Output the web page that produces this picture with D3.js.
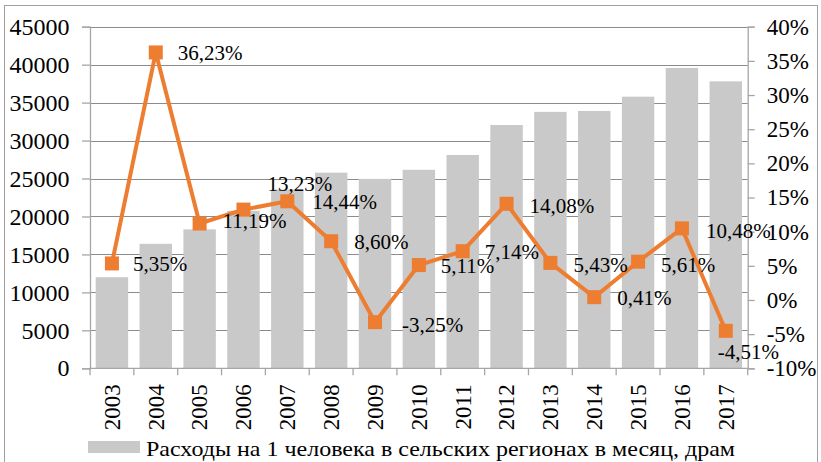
<!DOCTYPE html>
<html>
<head>
<meta charset="utf-8">
<script src="https://cdn.jsdelivr.net/npm/d3@7"></script>
<style>
  html, body { margin: 0; padding: 0; background: #fff; }
  svg text { font-family: "Liberation Serif", "DejaVu Serif", serif !important; fill: #000; }
</style>
</head>
<body>
<svg id="chart" width="821" height="462"></svg>
<script>
// ---- data ----
const years = ["2003","2004","2005","2006","2007","2008","2009","2010","2011","2012","2013","2014","2015","2016","2017"];
const spending = [12000, 16400, 18300, 20750, 23550, 25770, 24950, 26150, 28100, 32050, 33780, 33900, 35780, 39560, 37800];
const growth = [5.35, 36.23, 11.19, 13.23, 14.44, 8.60, -3.25, 5.11, 7.14, 14.08, 5.43, 0.41, 5.61, 10.48, -4.51];
const leftTicks = [0, 5000, 10000, 15000, 20000, 25000, 30000, 35000, 40000, 45000];
const rightTicks = [-10, -5, 0, 5, 10, 15, 20, 25, 30, 35, 40];
const legendLabel = "Расходы на 1 человека в сельских регионах в месяц, драм";

// ---- layout (label placement relative to marker) ----
const labelOffsets = [[21,0],[22,0],[23,-3],[24,-26],[25,1],[23,1],[27,3],[22,1],[22,1],[23,2],[23,2],[23,1],[23,3],[24,2],[-8,21]];

const svg = d3.select("#chart");
const L = 90, R = 747.7, T = 26.7, B = 368.3;
const gridColor = "#8c8c8c";
const axisColor = "#a6a6a6";
const FONT = "Liberation Serif";

// outer frame
svg.append("rect").attr("x", 4.5).attr("y", 5.5).attr("width", 813).attr("height", 462)
  .attr("fill", "none").attr("stroke", "#a0a0a0").attr("stroke-width", 1);

const x = d3.scaleBand().domain(years).range([L, R]).paddingInner(0.26).paddingOuter(0.13);
const xc = d => x(d) + x.bandwidth() / 2;
const yL = d3.scaleLinear().domain([0, 45000]).range([B, T]);
const yR = d3.scaleLinear().domain([-10, 40]).range([B, T]);

// gridlines
svg.append("g").selectAll("line").data(leftTicks.filter(d => d > 0)).join("line")
  .attr("x1", L).attr("x2", R)
  .attr("y1", d => Math.round(yL(d)) + 0.5).attr("y2", d => Math.round(yL(d)) + 0.5)
  .attr("stroke", gridColor).attr("stroke-width", 1);

// bars
svg.append("g").selectAll("rect").data(years).join("rect")
  .attr("x", d => x(d)).attr("width", x.bandwidth())
  .attr("y", (d, i) => yL(spending[i])).attr("height", (d, i) => B - yL(spending[i]))
  .attr("fill", "#c9c9c9");

// left axis
const gl = svg.append("g").attr("transform", `translate(${L},0)`)
  .call(d3.axisLeft(yL).tickValues(leftTicks).tickSize(8).tickPadding(12.5).tickFormat(d3.format("d")));
gl.attr("font-family", FONT);
gl.select(".domain").attr("stroke", axisColor).attr("stroke-width", 1.3);
gl.selectAll(".tick line").attr("stroke", axisColor).attr("stroke-width", 1.3);
gl.selectAll(".tick text").attr("font-size", 24).attr("fill", "#000");

// right axis
const gr = svg.append("g").attr("transform", `translate(${R},0)`)
  .call(d3.axisRight(yR).tickValues(rightTicks).tickSize(7).tickPadding(12).tickFormat(d => d + "%"));
gr.attr("font-family", FONT);
gr.select(".domain").attr("stroke", axisColor).attr("stroke-width", 1.3);
gr.selectAll(".tick line").attr("stroke", axisColor).attr("stroke-width", 1.3);
gr.selectAll(".tick text").attr("font-size", 23).attr("fill", "#000");

// bottom axis
svg.append("line").attr("x1", L).attr("x2", R).attr("y1", B).attr("y2", B)
  .attr("stroke", axisColor).attr("stroke-width", 1.3);
svg.append("g").selectAll("line").data(d3.range(years.length + 1)).join("line")
  .attr("x1", i => L + i * (R - L) / years.length).attr("x2", i => L + i * (R - L) / years.length)
  .attr("y1", B).attr("y2", B + 7)
  .attr("stroke", axisColor).attr("stroke-width", 1.3);
svg.append("g").selectAll("text").data(years).join("text")
  .attr("transform", d => `translate(${xc(d)},${B + 16}) rotate(-90)`)
  .attr("text-anchor", "end").attr("dy", "0.34em")
  .attr("font-family", FONT).attr("font-size", 23).text(d => d);

// line
const line = d3.line().x((d, i) => xc(years[i])).y(d => yR(d));
svg.append("path").datum(growth).attr("d", line)
  .attr("fill", "none").attr("stroke", "#ED7D31").attr("stroke-width", 4).attr("stroke-linejoin", "round");

// markers
const ms = 14;
svg.append("g").selectAll("rect").data(growth).join("rect")
  .attr("x", (d, i) => xc(years[i]) - ms / 2).attr("y", d => yR(d) - ms / 2)
  .attr("width", ms).attr("height", ms).attr("fill", "#ED7D31");

// data labels
const fmt = d => d.toFixed(2).replace(".", ",") + "%";
svg.append("g").selectAll("text").data(growth).join("text")
  .attr("x", (d, i) => xc(years[i]) + labelOffsets[i][0])
  .attr("y", (d, i) => yR(d) + labelOffsets[i][1])
  .attr("dy", "0.34em")
  .attr("font-family", FONT).attr("font-size", 21).text(fmt);

// legend
svg.append("rect").attr("x", 88).attr("y", 441).attr("width", 52).attr("height", 12).attr("fill", "#c9c9c9");
svg.append("text").attr("x", 146).attr("y", 456).attr("font-family", FONT).attr("font-size", 21)
  .attr("textLength", 589).attr("lengthAdjust", "spacingAndGlyphs").text(legendLabel);
</script>
</body>
</html>
